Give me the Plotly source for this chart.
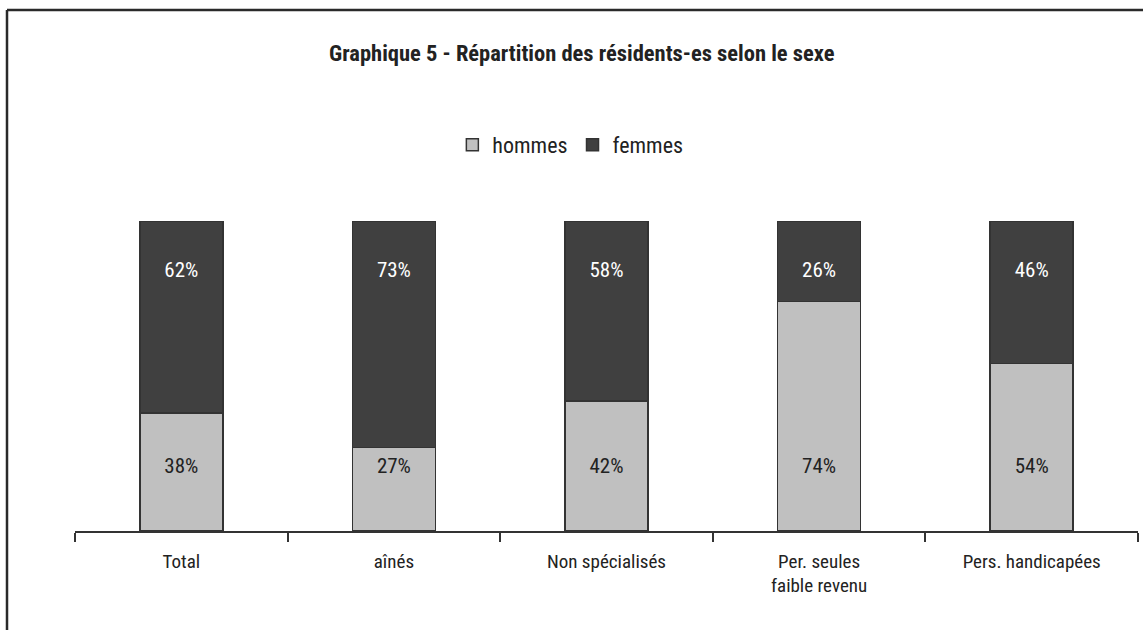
import plotly.graph_objects as go

categories = ["Total", "aînés", "Non spécialisés", "Per. seules<br>faible revenu", "Pers. handicapées"]
hommes = [38, 27, 42, 74, 54]
femmes = [62, 73, 58, 26, 46]

FONT = "Roboto Condensed, Liberation Sans Narrow, Roboto, Liberation Sans, sans-serif"
C_H = "#c0c0c0"
C_F = "#404040"
OUT = "#333333"

fig = go.Figure()
fig.add_trace(go.Bar(name="hommes", x=categories, y=hommes, width=0.39,
                     marker=dict(color=C_H, line=dict(color=OUT, width=1.5)),
                     hoverinfo="skip"))
fig.add_trace(go.Bar(name="femmes", x=categories, y=femmes, width=0.39,
                     marker=dict(color=C_F, line=dict(color=OUT, width=1.5)),
                     hoverinfo="skip"))

# value labels: hommes near the bottom, femmes near the top of each bar
fig.add_trace(go.Scatter(x=categories, y=[20.5] * len(categories), mode="text",
                         text=[f"{v}%" for v in hommes], showlegend=False,
                         textfont=dict(family=FONT, size=21, color="#222222"),
                         hoverinfo="skip"))
fig.add_trace(go.Scatter(x=categories, y=[83.5] * len(categories), mode="text",
                         text=[f"{v}%" for v in femmes], showlegend=False,
                         textfont=dict(family=FONT, size=21, color="#ffffff"),
                         hoverinfo="skip"))

fig.update_layout(
    barmode="stack",
    width=1143, height=630,
    margin=dict(l=75, r=5, t=221, b=99),
    paper_bgcolor="white", plot_bgcolor="white",
    font=dict(family=FONT, size=19, color="#222222"),
    title=dict(text="<b>Graphique 5 - Répartition des résidents-es selon le sexe</b>",
               x=0.509, xanchor="center", y=1 - 53 / 630, yanchor="middle",
               font=dict(family=FONT, size=22.5, color="#222222")),
    legend=dict(orientation="h", x=0.466, xanchor="center", y=1.245, yanchor="middle",
                font=dict(family=FONT, size=22, color="#222222"),
                itemwidth=30, traceorder="normal"),
    xaxis=dict(showline=True, linecolor="#333333", linewidth=1.5,
               ticks="outside", tickson="boundaries", ticklen=9, tickcolor="#333333",
               tickwidth=1.5, ticklabelstandoff=12,
               tickfont=dict(family=FONT, size=19, color="#222222"),
               showgrid=False, fixedrange=True),
    yaxis=dict(range=[0, 100], visible=False, showgrid=False, fixedrange=True),
    bargap=0.61,
    showlegend=True,
)

# frame lines (top and left) of the original figure box
px_w = 1143 - 75 - 5
px_h = 630 - 221 - 99
x_left = (7 - 75) / px_w
y_top = 1 + (221 - 10) / px_h
y_bot = 1 + (221 - 630) / px_h
fig.add_shape(type="line", xref="paper", yref="paper", x0=x_left, x1=1 + 5 / px_w,
              y0=y_top, y1=y_top, line=dict(color="#2a2a2a", width=2.5))
fig.add_shape(type="line", xref="paper", yref="paper", x0=x_left, x1=x_left,
              y0=y_top, y1=y_bot, line=dict(color="#2a2a2a", width=2.5))

fig.write_html("out.html", config={"displayModeBar": False},
               post_script="document.body.style.margin='0';document.body.style.overflow='hidden';")
